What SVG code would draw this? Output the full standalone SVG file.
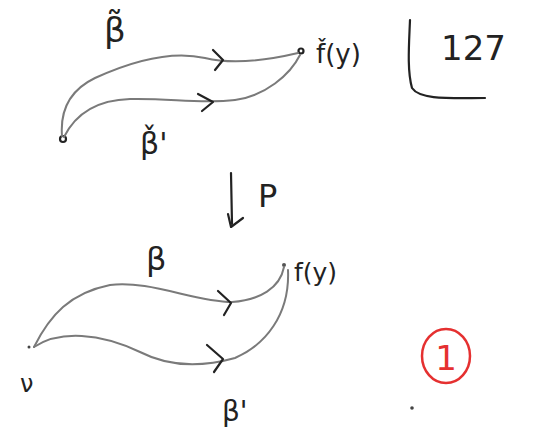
<svg xmlns="http://www.w3.org/2000/svg" width="539" height="432" viewBox="0 0 539 432">
<style>
.c{fill:none;stroke:#7a7a7a;stroke-width:2;stroke-linecap:round;stroke-linejoin:round}
.k{fill:none;stroke:#222;stroke-width:2.2;stroke-linecap:round;stroke-linejoin:round}
.t{font-family:"DejaVu Sans",sans-serif;fill:#222}
</style>
<rect width="539" height="432" fill="#fff"/>
<g id="top-start"><circle cx="63" cy="139" r="3" class="k" stroke-width="1.5"/></g>
<g id="top-end"><circle cx="301" cy="51" r="2.5" class="k" stroke-width="1.5"/><text class="t" x="316" y="63" font-size="26">f̌(y)</text></g>
<g id="bot-start"><circle cx="29" cy="347" r="1.5" fill="#444"/><text class="t" x="20" y="392" font-size="24">ν</text></g>
<g id="bot-end"><circle cx="284" cy="265" r="2" fill="#555"/><text class="t" x="294" y="281" font-size="25">f(y)</text></g>
<g id="connectors">
<path class="c" d="M62,136 C60,110 70,90 95,78 C130,62 170,50 205,58 C230,64 260,62 298,53"/>
<path class="k" stroke="#555" stroke-width="2" d="M213,50 L223,60 L215,70"/>
<path class="c" d="M64,137 C75,115 95,100 130,99 C170,98 200,104 235,100 C265,96 290,75 300,55"/>
<path class="k" stroke="#555" stroke-width="2" d="M198,94 L213,102 L202,111"/>
<path class="c" d="M34,347 C50,315 70,293 110,285 C150,280 195,302 232,302 C260,300 280,288 284,267"/>
<path class="k" stroke="#555" stroke-width="2" d="M218,291 L231,303 L224,315"/>
<path class="c" d="M34,347 C60,330 100,333 140,352 C175,370 210,365 235,358 C265,345 290,315 288,270"/>
<path class="k" stroke="#555" stroke-width="2" d="M207,345 L223,359 L214,372"/>
</g>
<g id="labels">
<text class="t" x="104" y="42" font-size="34">β̃</text>
<text class="t" x="140" y="154" font-size="30">β̌'</text>
<text class="t" x="146" y="270" font-size="32">β</text>
<text class="t" x="222" y="421" font-size="28">β'</text>
</g>
<g id="proj">
<path class="k" d="M231,173 L232,224"/>
<path class="k" d="M228,214 L231,227 L243,218"/>
<text class="t" x="258" y="207" font-size="32">P</text>
</g>
<g id="page">
<path class="k" d="M410,20 C409,45 407,70 412,88 C420,100 450,98 485,98"/>
<text class="t" x="441" y="60" font-size="34">127</text>
</g>
<g id="mark">
<ellipse cx="446" cy="356" rx="24" ry="27" fill="none" stroke="#e53030" stroke-width="2.5"/>
<text x="446" y="370" font-size="34" text-anchor="middle" font-family="DejaVu Sans,sans-serif" fill="#e53030">1</text>
<circle cx="412" cy="408" r="1.8" fill="#444"/>
</g>
</svg>
